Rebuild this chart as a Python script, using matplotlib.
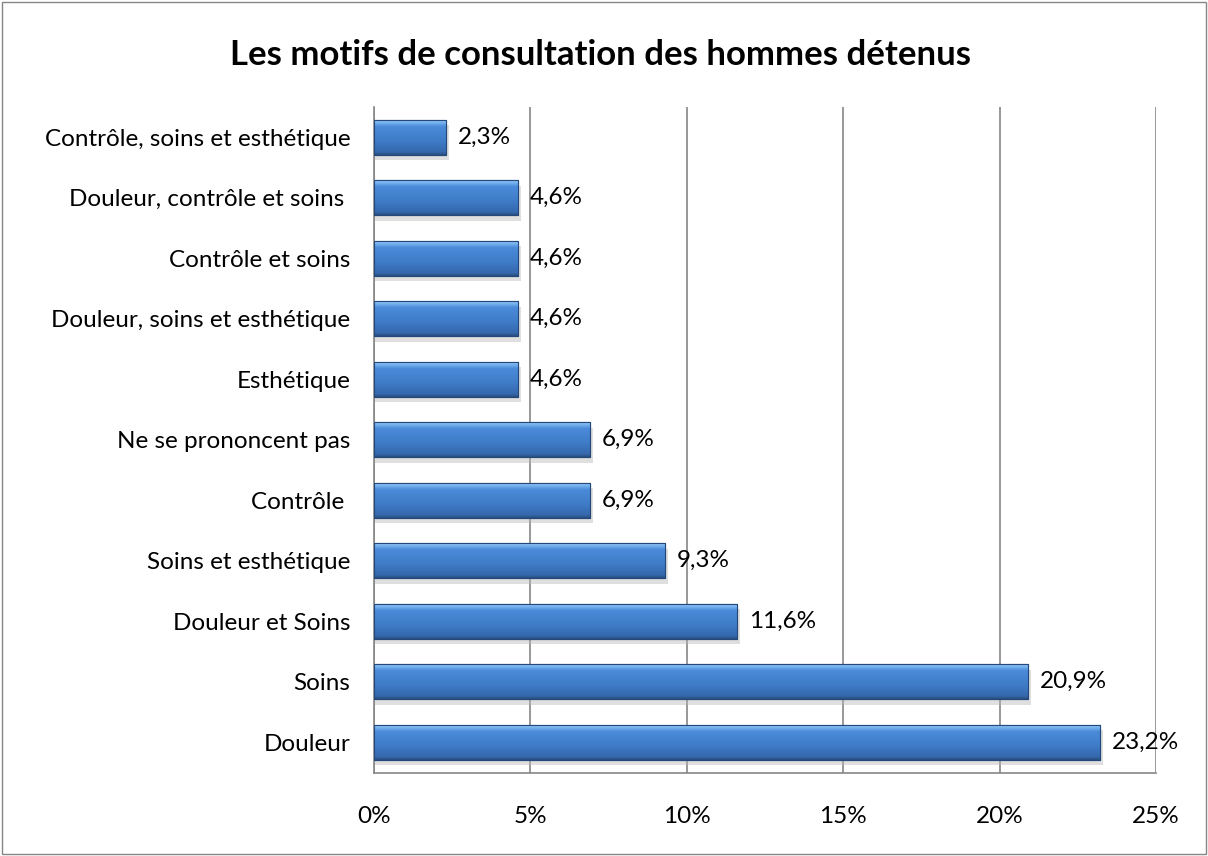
import numpy as np
import matplotlib
matplotlib.use("Agg")
import matplotlib.pyplot as plt
from matplotlib.patches import Rectangle

categories = ['Douleur', 'Soins', 'Douleur et Soins', 'Soins et esthétique',
              'Contrôle ', 'Ne se prononcent pas', 'Esthétique',
              'Douleur, soins et esthétique', 'Contrôle et soins',
              'Douleur, contrôle et soins ', 'Contrôle, soins et esthétique']
values = [23.2, 20.9, 11.6, 9.3, 6.9, 6.9, 4.6, 4.6, 4.6, 4.6, 2.3]
value_labels = ['23,2%', '20,9%', '11,6%', '9,3%', '6,9%', '6,9%', '4,6%',
                '4,6%', '4,6%', '4,6%', '2,3%']
xticks = [0, 5, 10, 15, 20, 25]

plt.rcParams['font.family'] = ['Lato', 'DejaVu Sans']
fs = 17.5

fig = plt.figure(figsize=(12.08, 8.56), dpi=100)
ax = fig.add_axes([0.3096, 0.0975, 0.957 - 0.3096, 0.875 - 0.0975])

y = np.arange(len(categories))
h = 0.58

# gradient used to fake the bevelled Excel bars
grad = np.linspace(0, 1, 64).reshape(-1, 1)
cmap = matplotlib.colors.LinearSegmentedColormap.from_list(
    'bar', [(0, '#2a4f80'), (0.08, '#3568ad'), (0.4, '#3f7cc8'),
            (0.8, '#4b8bd9'), (0.9, '#74b1ee'), (1, '#9ccbf7')])

for yi, v in zip(y, values):
    # soft shadow
    ax.add_patch(Rectangle((0, yi - h / 2 - 0.09), v + 0.1, h, color='#b8b8b8',
                           alpha=0.45, lw=0, zorder=2))
    bar = ax.barh(yi, v, height=h, color='#3f7fcc', edgecolor='#1f4a80',
                  linewidth=0.8, zorder=3)[0]
    im = ax.imshow(grad, cmap=cmap, aspect='auto', zorder=3.5,
                   extent=[0, v, yi - h / 2, yi + h / 2], origin='lower')
    im.set_clip_path(bar)
    ax.add_patch(Rectangle((0, yi - h / 2), v, h, fill=False,
                           edgecolor='#24487a', lw=0.8, zorder=4))

for yi, v, lab in zip(y, values, value_labels):
    ax.text(v + 0.38, yi, lab, va='center', ha='left', fontsize=fs, zorder=5)

ax.set_xlim(0, 25)
ax.set_ylim(-0.5, len(categories) - 0.5)
ax.set_yticks(y)
ax.set_yticklabels(categories, fontsize=fs)
ax.set_xticks(xticks)
ax.set_xticklabels([f'{t}%' for t in xticks], fontsize=fs)
ax.tick_params(axis='y', length=0, pad=17)
ax.tick_params(axis='x', length=0, pad=24)
ax.xaxis.grid(True, color='#868686', lw=1.2, zorder=1)
ax.set_axisbelow(True)
for s in ['top', 'right']:
    ax.spines[s].set_visible(False)
for s in ['left', 'bottom']:
    ax.spines[s].set_color('#868686')
    ax.spines[s].set_linewidth(1.2)

fig.text(0.497, 0.936, 'Les motifs de consultation des hommes détenus',
         ha='center', va='center', fontsize=25, fontweight='bold')

fig.add_artist(Rectangle((0.002, 0.002), 0.996, 0.996, transform=fig.transFigure,
                         fill=False, edgecolor='#868686', lw=1))

fig.savefig('out.png', dpi=100)
